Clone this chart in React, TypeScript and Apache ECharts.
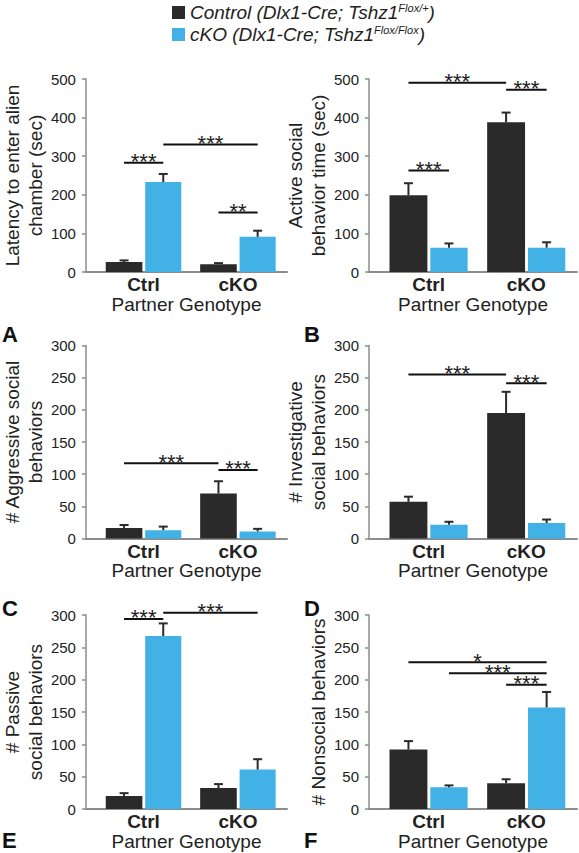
import React, { useEffect, useRef } from 'react';
import * as echarts from 'echarts';

// ---------- data ----------
const categories = ['Ctrl', 'cKO'];
const categoryPositions = [1, 2];

// Latency to enter alien chamber (sec)
const latencyControl = [26, 20];
const latencyControlSem = [4, 3];
const latencyCko = [233, 91];
const latencyCkoSem = [21, 16];
const latencySig: [number, number, number, string][] = [
  [0, 1, 283, '***'],
  [1, 3, 330, '***'],
  [2, 3, 154, '**'],
];

// Active social behavior time (sec)
const activeControl = [199, 388];
const activeControlSem = [31, 25];
const activeCko = [63, 63];
const activeCkoSem = [11, 14];
const activeSig: [number, number, number, string][] = [
  [0, 2, 490, '***'],
  [2, 3, 472, '***'],
  [0, 1, 263, '***'],
];

// # Aggressive social behaviors
const aggressiveControl = [16.5, 70];
const aggressiveControlSem = [4.5, 19];
const aggressiveCko = [13, 11];
const aggressiveCkoSem = [5.5, 4];
const aggressiveSig: [number, number, number, string][] = [
  [0, 2, 117, '***'],
  [2, 3, 106.5, '***'],
];

// # Investigative social behaviors
const investigativeControl = [57, 195];
const investigativeControlSem = [8, 33];
const investigativeCko = [21.5, 24];
const investigativeCkoSem = [4.5, 5.5];
const investigativeSig: [number, number, number, string][] = [
  [0, 2, 255, '***'],
  [2, 3, 241.5, '***'],
];

// # Passive social behaviors
const passiveControl = [20, 32.5];
const passiveControlSem = [4.5, 6];
const passiveCko = [267.5, 61];
const passiveCkoSem = [19.5, 16];
const passiveSig: [number, number, number, string][] = [
  [0, 1, 294, '***'],
  [1, 3, 303.6, '***'],
];

// # Nonsocial behaviors
const nonsocialControl = [92, 40];
const nonsocialControlSem = [13, 6];
const nonsocialCko = [33.5, 157];
const nonsocialCkoSem = [3, 24];
const nonsocialSig: [number, number, number, string][] = [
  [0, 3, 227, '*'],
  [1, 3, 210, '***'],
  [2, 3, 192, '***'],
];

// ---------- style ----------
const FONT = '"Liberation Sans", Arial, Helvetica, sans-serif';
const DARK = '#2a2a2a';
const BLUE = '#41b1e6';
const AXIS_GRAY = '#8c8c8c';
const TEXT = '#222';
const X_MIN = 0.39;
const X_MAX = 2.52;
const DARK_SPAN = [-0.4, -0.012];
const BLUE_SPAN = [0.018, 0.4];

const barCenter = (idx: number) => {
  const c = categoryPositions[idx < 2 ? 0 : 1];
  const span = idx % 2 === 0 ? DARK_SPAN : BLUE_SPAN;
  return c + (span[0] + span[1]) / 2;
};

const panels = [
  { yName: 'Latency to enter alien\nchamber (sec)', yMax: 500, yInt: 100, nameGap: 33, grid: { left: 77, top: 79, width: 210, height: 193 },
    control: latencyControl, controlSem: latencyControlSem, cko: latencyCko, ckoSem: latencyCkoSem, sig: latencySig },
  { yName: 'Active social\nbehavior time (sec)', yMax: 500, yInt: 100, nameGap: 33, grid: { left: 369, top: 79, width: 208, height: 193 },
    control: activeControl, controlSem: activeControlSem, cko: activeCko, ckoSem: activeCkoSem, sig: activeSig },
  { yName: '# Aggressive social\nbehaviors', yMax: 300, yInt: 50, nameGap: 35, grid: { left: 77, top: 345.5, width: 210, height: 193 },
    control: aggressiveControl, controlSem: aggressiveControlSem, cko: aggressiveCko, ckoSem: aggressiveCkoSem, sig: aggressiveSig },
  { yName: '# Investigative\nsocial behaviors', yMax: 300, yInt: 50, nameGap: 33, grid: { left: 369, top: 345.5, width: 208, height: 193 },
    control: investigativeControl, controlSem: investigativeControlSem, cko: investigativeCko, ckoSem: investigativeCkoSem, sig: investigativeSig },
  { yName: '# Passive\nsocial behaviors', yMax: 300, yInt: 50, nameGap: 33, grid: { left: 77, top: 615, width: 210, height: 194 },
    control: passiveControl, controlSem: passiveControlSem, cko: passiveCko, ckoSem: passiveCkoSem, sig: passiveSig },
  { yName: '# Nonsocial behaviors', yMax: 300, yInt: 50, nameGap: 37, grid: { left: 369, top: 615, width: 208, height: 194 },
    control: nonsocialControl, controlSem: nonsocialControlSem, cko: nonsocialCko, ckoSem: nonsocialCkoSem, sig: nonsocialSig },
];

const letters = [
  { t: 'A', x: 2, y: 334 },
  { t: 'B', x: 304, y: 334 },
  { t: 'C', x: 2, y: 608 },
  { t: 'D', x: 304, y: 608 },
  { t: 'E', x: 2, y: 840 },
  { t: 'F', x: 304, y: 840 },
];

function barRenderer(span: number[]) {
  return (params: any, api: any) => {
    const x = api.value(0);
    const v = api.value(1);
    const e = api.value(2);
    const base = api.coord([x + span[0], 0]);
    const top = api.coord([x + span[1], v]);
    const mid = x + (span[0] + span[1]) / 2;
    const pTop = api.coord([mid, v]);
    const pErr = api.coord([mid, v + e]);
    return {
      type: 'group',
      children: [
        { type: 'rect', shape: { x: base[0], y: top[1], width: top[0] - base[0], height: base[1] - top[1] }, style: { fill: api.visual('color') } },
        { type: 'line', shape: { x1: pTop[0], y1: pTop[1], x2: pErr[0], y2: pErr[1] }, style: { stroke: DARK, lineWidth: 2 } },
        { type: 'line', shape: { x1: pErr[0] - 4.5, y1: pErr[1], x2: pErr[0] + 4.5, y2: pErr[1] }, style: { stroke: DARK, lineWidth: 2 } },
      ],
    };
  };
}

function sigRenderer(sig: [number, number, number, string][]) {
  return (params: any, api: any) => {
    const a = api.coord([api.value(0), api.value(2)]);
    const b = api.coord([api.value(1), api.value(2)]);
    return {
      type: 'group',
      children: [
        { type: 'line', shape: { x1: a[0], y1: a[1], x2: b[0], y2: b[1] }, style: { stroke: '#111', lineWidth: 2 } },
        {
          type: 'text',
          x: (a[0] + b[0]) / 2,
          y: a[1] - 1,
          style: { text: sig[params.dataIndex][3], fill: '#222', font: `22px ${FONT}`, align: 'center', verticalAlign: 'middle' },
        },
      ],
    };
  };
}

function buildOption() {
  const grid: any[] = [];
  const xAxis: any[] = [];
  const yAxis: any[] = [];
  const series: any[] = [];
  panels.forEach((p, i) => {
    grid.push({ ...p.grid, containLabel: false });
    xAxis.push({
      type: 'value',
      gridIndex: i,
      min: X_MIN,
      max: X_MAX,
      splitLine: { show: false },
      axisTick: { show: false },
      axisLine: { show: true, lineStyle: { color: AXIS_GRAY, width: 2 } },
      axisLabel: {
        customValues: categoryPositions,
        formatter: (v: number) => categories[categoryPositions.indexOf(v)] ?? '',
        fontFamily: FONT,
        fontWeight: 'bold',
        fontSize: 19,
        color: TEXT,
        margin: 3,
      },
      name: 'Partner Genotype',
      nameLocation: 'middle',
      nameGap: 21,
      nameTextStyle: { fontFamily: FONT, fontSize: 19, color: TEXT },
    });
    yAxis.push({
      type: 'value',
      gridIndex: i,
      min: 0,
      max: p.yMax,
      interval: p.yInt,
      splitLine: { show: false },
      axisLine: { show: true, lineStyle: { color: AXIS_GRAY, width: 1.5 } },
      axisTick: { show: true, length: 4, lineStyle: { color: AXIS_GRAY, width: 1.5 } },
      axisLabel: { fontFamily: FONT, fontSize: 15, color: TEXT, margin: 10 },
      name: p.yName,
      nameLocation: 'middle',
      nameRotate: 90,
      nameGap: p.nameGap,
      nameTextStyle: { fontFamily: FONT, fontSize: 19, color: TEXT, lineHeight: 23 },
    });
    series.push({
      type: 'custom',
      name: 'Control',
      xAxisIndex: i,
      yAxisIndex: i,
      clip: false,
      itemStyle: { color: DARK },
      renderItem: barRenderer(DARK_SPAN),
      encode: { x: 0, y: 1 },
      data: categoryPositions.map((c, k) => [c, p.control[k], p.controlSem[k]]),
    });
    series.push({
      type: 'custom',
      name: 'cKO',
      xAxisIndex: i,
      yAxisIndex: i,
      clip: false,
      itemStyle: { color: BLUE },
      renderItem: barRenderer(BLUE_SPAN),
      encode: { x: 0, y: 1 },
      data: categoryPositions.map((c, k) => [c, p.cko[k], p.ckoSem[k]]),
    });
    series.push({
      type: 'custom',
      name: 'sig' + i,
      xAxisIndex: i,
      yAxisIndex: i,
      clip: false,
      silent: true,
      renderItem: sigRenderer(p.sig),
      encode: { x: [0, 1], y: 2 },
      data: p.sig.map((s) => [barCenter(s[0]), barCenter(s[1]), s[2]]),
    });
  });

  return {
    animation: false,
    backgroundColor: '#fff',
    legend: {
      data: ['Control', 'cKO'],
      orient: 'vertical',
      left: 172,
      top: 2,
      padding: 0,
      icon: 'rect',
      itemWidth: 13,
      itemHeight: 13,
      itemGap: 2,
      selectedMode: false,
      formatter: (name: string) =>
        name === 'Control'
          ? '{t|Control (Dlx1-Cre; Tshz1}{s|Flox/+}{t|)}'
          : '{t|cKO (Dlx1-Cre; Tshz1}{s|Flox/Flox}{t|)}',
      textStyle: {
        rich: {
          t: { fontFamily: FONT, fontStyle: 'italic', fontSize: 19, color: TEXT, lineHeight: 21 },
          s: { fontFamily: FONT, fontStyle: 'italic', fontSize: 11, color: TEXT, verticalAlign: 'top', lineHeight: 11 },
        },
      },
    },
    grid,
    xAxis,
    yAxis,
    series,
    graphic: letters.map((l) => ({
      type: 'text',
      x: l.x,
      y: l.y,
      style: { text: l.t, font: `bold 22px ${FONT}`, fill: '#111', align: 'left', verticalAlign: 'middle' },
    })),
  };
}

export default function App() {
  const ref = useRef<HTMLDivElement>(null);
  useEffect(() => {
    document.body.style.margin = '0';
    const chart = echarts.init(ref.current!, null, { renderer: 'svg' });
    chart.setOption(buildOption() as any);
    return () => chart.dispose();
  }, []);
  return <div ref={ref} style={{ width: 579, height: 853 }} />;
}
